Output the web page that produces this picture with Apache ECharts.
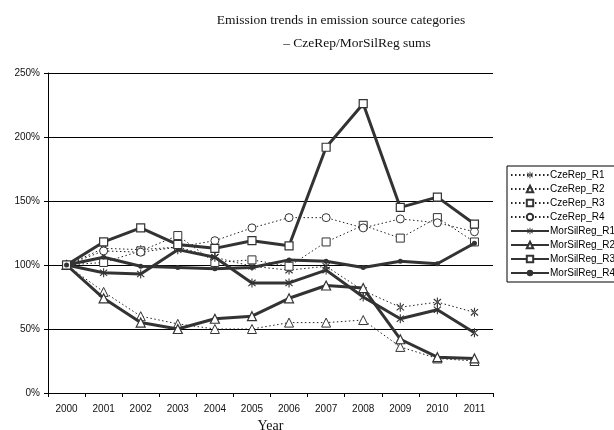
<!DOCTYPE html>
<html>
<head>
<meta charset="utf-8">
<script src="https://cdn.jsdelivr.net/npm/echarts@6/dist/echarts.min.js"></script>
<style>
  html, body { margin: 0; padding: 0; background: #fff; }
  #chart { width: 614px; height: 430px; }
</style>
</head>
<body>
<div id="chart"></div>
<script>
// Years on the category axis
const years = ['2000', '2001', '2002', '2003', '2004', '2005', '2006', '2007', '2008', '2009', '2010', '2011'];
const yTicks = [0, 50, 100, 150, 200, 250];

// Emission index relative to 2000 (percent)
const czeRepR1 = [100, 113, 112, 114, 106, 99, 96, 99, 80, 67, 71, 63];
const czeRepR2 = [100, 79, 60, 54, 50, 50, 55, 55, 57, 36, 27, 25];
const czeRepR3 = [100, 102, 111, 123, 102, 104, 99, 118, 131, 121, 137, 118];
const czeRepR4 = [100, 111, 110, 114, 119, 129, 137, 137, 129, 136, 133, 126];
const morSilRegR1 = [100, 94, 93, 112, 106, 86, 86, 96, 75, 58, 65, 47];
const morSilRegR2 = [100, 74, 55, 50, 58, 60, 74, 84, 82, 42, 28, 27];
const morSilRegR3 = [100, 118, 129, 116, 113, 119, 115, 192, 226, 145, 153, 132];
const morSilRegR4 = [100, 106, 99, 98, 97, 98, 104, 103, 98, 103, 101, 117];

// Six-spoke asterisk marker
const asterisk = 'path://M-0.6,-5 L0.6,-5 L0.6,5 L-0.6,5 Z ' +
  'M-4.4,-3.05 L3.6,3.95 L4.4,3.05 L-3.6,-3.95 Z ' +
  'M-3.6,3.95 L4.4,-3.05 L3.6,-3.95 L-4.4,3.05 Z';

const sansFont = 'Liberation Sans, Arial, sans-serif';
const serifFont = 'Liberation Serif, Times New Roman, serif';

function dotted(name, data, symbol, size, filled) {
  return {
    name, type: 'line', data,
    symbol, symbolSize: size, symbolKeepAspect: true,
    showAllSymbol: true,
    lineStyle: { color: '#222', width: 1, type: [1.5, 2.5] },
    itemStyle: filled
      ? { color: '#333', borderWidth: 0 }
      : { color: '#fff', borderColor: '#333', borderWidth: 1 },
    emphasis: { disabled: true },
    z: 2
  };
}

function solid(name, data, symbol, size, filled) {
  return {
    name, type: 'line', data,
    symbol, symbolSize: size, symbolKeepAspect: true,
    showAllSymbol: true,
    lineStyle: { color: '#333', width: 3 },
    itemStyle: filled
      ? { color: '#333', borderWidth: 0 }
      : { color: '#fff', borderColor: '#333', borderWidth: 1.2 },
    emphasis: { disabled: true },
    z: 3
  };
}

const chart = echarts.init(document.getElementById('chart'), null, { renderer: 'canvas' });

chart.setOption({
  animation: false,
  backgroundColor: '#fff',
  graphic: [
    {
      type: 'text', x: 341, y: 20,
      style: { text: 'Emission trends in emission source categories', font: '13.5px ' + serifFont, fill: '#111', align: 'center', verticalAlign: 'middle' }
    },
    {
      type: 'text', x: 357, y: 43,
      style: { text: '– CzeRep/MorSilReg sums', font: '13.5px ' + serifFont, fill: '#111', align: 'center', verticalAlign: 'middle' }
    }
  ],
  legend: {
    orient: 'vertical',
    left: 507, top: 166,
    padding: [4, 10, 4, 3],
    itemWidth: 38, itemHeight: 8, itemGap: 4,
    borderColor: '#000', borderWidth: 1,
    backgroundColor: '#fff',
    textStyle: { fontFamily: sansFont, fontSize: 10, color: '#000', padding: [0, 0, 0, -4] },
    data: ['CzeRep_R1', 'CzeRep_R2', 'CzeRep_R3', 'CzeRep_R4', 'MorSilReg_R1', 'MorSilReg_R2', 'MorSilReg_R3', 'MorSilReg_R4']
  },
  grid: { left: 48, right: 121, top: 73, bottom: 37, containLabel: false, outerBoundsMode: 'none' },
  xAxis: {
    type: 'category',
    data: years,
    boundaryGap: true,
    name: 'Year',
    nameLocation: 'middle',
    nameGap: 19,
    nameTextStyle: { fontFamily: serifFont, fontSize: 14, color: '#111' },
    axisLine: { lineStyle: { color: '#000', width: 1 } },
    axisTick: { show: true, length: 4, interval: 0, lineStyle: { color: '#000' } },
    axisLabel: { fontFamily: sansFont, fontSize: 10, color: '#111', margin: 11, interval: 0 },
    splitLine: { show: false }
  },
  yAxis: {
    type: 'value',
    min: yTicks[0], max: yTicks[yTicks.length - 1], interval: 50,
    axisLine: { show: true, lineStyle: { color: '#000', width: 1 } },
    axisTick: { show: true, length: 4, lineStyle: { color: '#000' } },
    axisLabel: { fontFamily: sansFont, fontSize: 10, color: '#111', margin: 8, formatter: '{value}%' },
    splitLine: { show: true, lineStyle: { color: '#000', width: 1 } }
  },
  series: [
    dotted('CzeRep_R1', czeRepR1, asterisk, 9, true),
    dotted('CzeRep_R2', czeRepR2, 'triangle', 9, false),
    dotted('CzeRep_R3', czeRepR3, 'rect', 8, false),
    dotted('CzeRep_R4', czeRepR4, 'circle', 8, false),
    solid('MorSilReg_R1', morSilRegR1, asterisk, 9, true),
    solid('MorSilReg_R2', morSilRegR2, 'triangle', 9, false),
    solid('MorSilReg_R3', morSilRegR3, 'rect', 8, false),
    solid('MorSilReg_R4', morSilRegR4, 'circle', 5, true)
  ]
});
</script>
</body>
</html>
